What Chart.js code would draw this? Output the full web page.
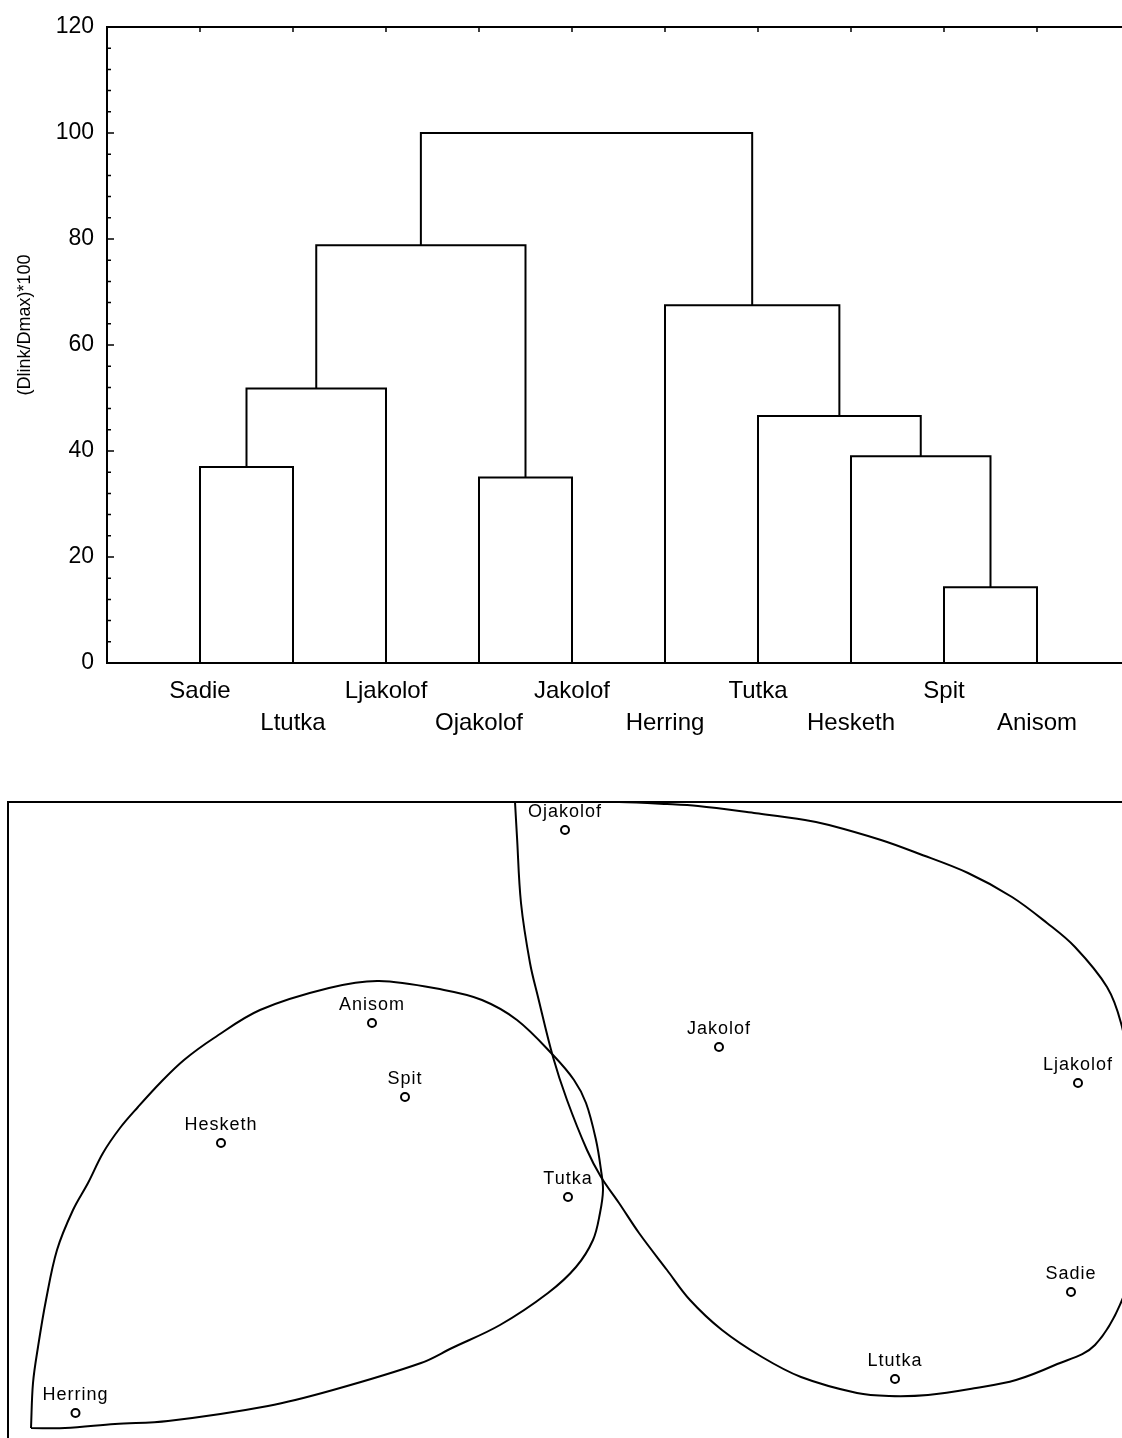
<!DOCTYPE html>
<html>
<head>
<meta charset="utf-8">
<script src="https://cdn.jsdelivr.net/npm/chart.js@4.4.1/dist/chart.umd.min.js"></script>
<style>
html, body { margin: 0; padding: 0; background: #fff; }
#wrap { position: relative; width: 1122px; height: 1438px; overflow: hidden; }
canvas { position: absolute; left: 0; }
#dendro { top: 0; }
#mds { top: 760px; }
</style>
</head>
<body>
<div id="wrap">
<canvas id="dendro" width="1122" height="760"></canvas>
<canvas id="mds" width="1122" height="678"></canvas>
</div>
<script>

// dendrogram, leaves in plotted order
const leaves = ["Sadie","Ltutka","Ljakolof","Ojakolof","Jakolof","Herring","Tutka","Hesketh","Spit","Anisom"]
// children: leaf index (<10) or 10 + merge index
const mergeLeft   = [0, 3, 8, 7, 10, 6, 5, 14, 17]
const mergeRight  = [1, 4, 9, 12, 2, 13, 15, 11, 16]
const mergeHeight = [37, 35, 14.3, 39, 51.8, 46.6, 67.5, 78.8, 100]
const yTicks = [0, 20, 40, 60, 80, 100, 120]

// ordination plot
const sites = ["Ojakolof","Jakolof","Ljakolof","Anisom","Spit","Hesketh","Tutka","Herring","Sadie","Ltutka"]
const siteX = [0.0, 0.616, 2.052, -0.772, -0.64, -1.376, 0.012, -1.958, 2.024, 1.32]
const siteY = [1.16, 0.292, 0.148, 0.388, 0.092, -0.092, -0.308, -1.172, -0.688, -1.036]

// hand drawn group outlines
const groupAx = [-2.136,-2.128,-2.108,-2.076,-2.032,-1.968,-1.908,-1.848,-1.78,-1.708,-1.616,-1.524,-1.404,-1.22,-0.944,-0.744,-0.484,-0.332,-0.192,-0.048,0.036,0.084,0.124,0.144,0.152,0.14,0.112,0.044,-0.068,-0.26,-0.452,-0.576,-0.928,-1.188,-1.588,-1.8,-2.0,-2.136]
const groupAy = [-1.232,-1.052,-0.908,-0.72,-0.52,-0.36,-0.252,-0.132,-0.032,0.052,0.152,0.24,0.328,0.44,0.528,0.556,0.52,0.48,0.4,0.26,0.16,0.068,-0.08,-0.2,-0.28,-0.372,-0.48,-0.588,-0.692,-0.82,-0.912,-0.972,-1.08,-1.144,-1.204,-1.216,-1.232,-1.232]
const groupBx = [-0.2,-0.02,0.216,0.408,0.532,0.756,0.96,1.056,1.264,1.408,1.612,1.788,1.928,2.04,2.168,2.224,2.268,2.292,2.276,2.244,2.12,1.96,1.804,1.644,1.452,1.296,1.168,0.944,0.788,0.628,0.5,0.408,0.296,0.216,0.144,0.088,0.008,-0.048,-0.108,-0.14,-0.176,-0.192,-0.2]
const groupBy = [1.272,1.272,1.272,1.264,1.256,1.228,1.2,1.18,1.12,1.068,0.988,0.892,0.788,0.692,0.532,0.388,0.16,-0.16,-0.48,-0.68,-0.9,-0.98,-1.04,-1.072,-1.1,-1.104,-1.092,-1.028,-0.948,-0.84,-0.72,-0.6,-0.452,-0.332,-0.228,-0.12,0.08,0.252,0.492,0.628,0.868,1.132,1.272]

const FONT = '"Liberation Sans", Arial, sans-serif'
Chart.defaults.font.family = FONT
Chart.defaults.color = "#000"
Chart.defaults.animation = false
Chart.defaults.plugins.legend.display = false
Chart.defaults.plugins.tooltip.enabled = false


// dendrogram links

const nodeX = leaves.map((_, i) => i + 1)
const nodeH = leaves.map(() => 0)
const links = mergeHeight.map((h, k) => {
  const l = mergeLeft[k], r = mergeRight[k]
  nodeX.push((nodeX[l] + nodeX[r]) / 2)
  nodeH.push(h)
  return {
    data: [
      {x: nodeX[l], y: nodeH[l]},
      {x: nodeX[l], y: h},
      {x: nodeX[r], y: h},
      {x: nodeX[r], y: nodeH[r]}
    ],
    showLine: true,
    borderColor: "#000",
    borderWidth: 2,
    pointRadius: 0,
    tension: 0
  }
})

// top border + inward ticks
const frameTicks = {
  id: "frameTicks",
  afterDraw(chart) {
    const {ctx, chartArea: a, scales: {x, y}} = chart
    ctx.save()
    ctx.strokeStyle = "#000"
    ctx.lineWidth = 2
    ctx.beginPath()
    ctx.moveTo(a.left - 1, a.top)
    ctx.lineTo(a.right, a.top)
    ctx.stroke()
    ctx.lineWidth = 1.5
    ctx.beginPath()
    for (let v = 0; v <= 120; v += 4) {
      const py = y.getPixelForValue(v)
      ctx.moveTo(a.left, py)
      ctx.lineTo(a.left + (v % 20 === 0 ? 7 : 4), py)
    }
    leaves.forEach((_, i) => {
      const px = x.getPixelForValue(i + 1)
      ctx.moveTo(px, a.top)
      ctx.lineTo(px, a.top + 5)
    })
    ctx.stroke()
    ctx.restore()
  }
}

new Chart(document.getElementById("dendro"), {
  type: "scatter",
  data: { datasets: links },
  plugins: [frameTicks],
  options: {
    responsive: false,
    layout: { autoPadding: false, padding: { left: 0, top: 27, right: 0, bottom: 0 } },
    scales: {
      x: {
        type: "linear",
        min: 0,
        max: 10.914,
        afterBuildTicks: s => { s.ticks = leaves.map((_, i) => ({value: i + 1})) },
        afterFit: s => { s.height = 97 },
        grid: { display: false, drawTicks: false },
        border: { color: "#000", width: 2 },
        ticks: {
          autoSkip: false,
          maxRotation: 0,
          minRotation: 0,
          padding: 12,
          font: { size: 24, lineHeight: 1.333 },
          callback: (v, i) => i % 2 === 0 ? leaves[v - 1] : ["", leaves[v - 1]]
        }
      },
      y: {
        min: 0,
        max: 120,
        afterBuildTicks: s => { s.ticks = yTicks.map(v => ({value: v})) },
        afterFit: s => { s.width = 107 },
        grid: { display: false, drawTicks: false },
        border: { color: "#000", width: 2 },
        ticks: { padding: 13, font: { size: 23 } },
        title: {
          display: true,
          text: "        (Dlink/Dmax)*100",
          font: { size: 18 },
          padding: { top: 14, bottom: 0 }
        }
      }
    }
  }
})


// site labels above the circles
const siteLabels = {
  id: "siteLabels",
  afterDatasetsDraw(chart) {
    const ctx = chart.ctx
    const meta = chart.getDatasetMeta(0)
    ctx.save()
    ctx.font = "18px " + FONT
    ctx.letterSpacing = "1px"
    ctx.fillStyle = "#000"
    ctx.textAlign = "center"
    ctx.textBaseline = "alphabetic"
    meta.data.forEach((pt, i) => ctx.fillText(sites[i], pt.x, pt.y - 13))
    ctx.restore()
  }
}

const outline = (xs, ys) => ({
  data: xs.map((x, i) => ({x: x, y: ys[i]})),
  showLine: true,
  borderColor: "#000",
  borderWidth: 2,
  pointRadius: 0,
  tension: 0.35
})

new Chart(document.getElementById("mds"), {
  type: "scatter",
  data: {
    datasets: [
      {
        data: sites.map((_, i) => ({x: siteX[i], y: siteY[i]})),
        pointStyle: "circle",
        pointRadius: 4,
        borderWidth: 2,
        borderColor: "#000",
        backgroundColor: "#fff"
      },
      outline(groupAx, groupAy),
      outline(groupBx, groupBy)
    ]
  },
  plugins: [siteLabels],
  options: {
    responsive: false,
    layout: { autoPadding: false, padding: { left: 8, top: 42, right: 0, bottom: 0 } },
    scales: {
      x: {
        position: "top",
        min: -2.228,
        max: 2.228,
        afterFit: s => { s.height = 0 },
        grid: { display: false, drawTicks: false },
        border: { color: "#000", width: 2 },
        ticks: { display: false }
      },
      y: {
        min: -1.272,
        max: 1.272,
        afterFit: s => { s.width = 0 },
        grid: { display: false, drawTicks: false },
        border: { color: "#000", width: 2 },
        ticks: { display: false }
      }
    }
  }
})

</script>
</body>
</html>
